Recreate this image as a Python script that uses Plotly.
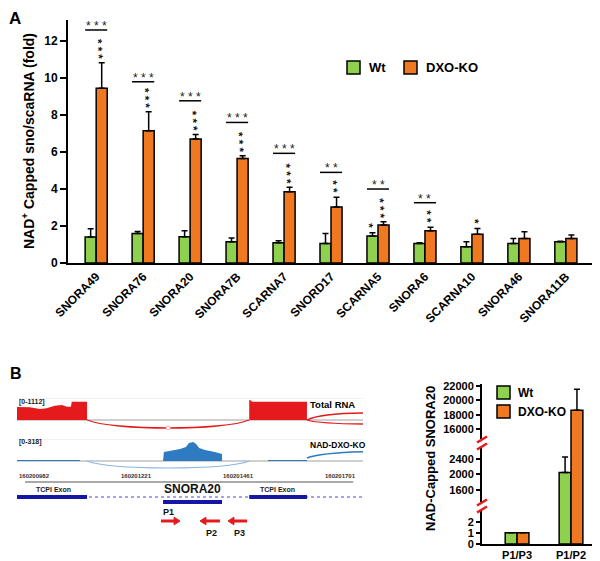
import plotly.graph_objects as go

W, H = 600, 561
OFF = 8  # page body margin in the viewer
FONT = "Liberation Sans, Arial, sans-serif"
GREEN = "#8FD14F"
ORANGE = "#F07820"
RED = "#E41A1C"
BLUE = "#2F7BC1"
LIGHTBLUE = "#8AB6E2"
GENE = "#1515A8"

# ---------------- Panel A data ----------------
categories = ["SNORA49", "SNORA76", "SNORA20", "SNORA7B", "SCARNA7", "SNORD17",
              "SCARNA5", "SNORA6", "SCARNA10", "SNORA46", "SNORA11B"]
wt_vals = [1.40, 1.60, 1.42, 1.15, 1.10, 1.05, 1.46, 1.06, 0.88, 1.06, 1.15]
wt_err = [0.45, 0.10, 0.33, 0.20, 0.10, 0.55, 0.18, 0.04, 0.27, 0.27, 0.03]
dxo_vals = [9.45, 7.15, 6.70, 5.65, 3.85, 3.03, 2.05, 1.75, 1.55, 1.33, 1.33]
dxo_err = [1.38, 1.03, 0.25, 0.15, 0.25, 0.52, 0.18, 0.18, 0.32, 0.36, 0.18]
bracket_y = [12.6, 9.8, 8.77, 7.6, 5.93, 4.9, 4.0, 3.26, None, None, None]
bracket_stars = ["***", "***", "***", "***", "***", "**", "**", "**", "", "", ""]
dxo_stars = ["***", "***", "***", "***", "***", "**", "***", "**", "*", "", ""]
wt_stars = ["", "", "", "", "", "", "*", "", "", "", ""]
yticks_a = [0, 2, 4, 6, 8, 10, 12]

# ---------------- Panel B (bar) data ----------------
primers = ["P1/P3", "P1/P2"]
wt_b = [1.0, 2050]
wt_b_err = [0, 400]
dxo_b = [1.0, 18600]
dxo_b_err = [0, 2950]
yticks_b_low = [0, 1, 2]
yticks_b_mid = [1600, 2000, 2400]
yticks_b_top = [16000, 18000, 20000, 22000]

# ---------------- Panel B (genome track) data ----------------
genome_range = [160200940, 160201755]
total_rna_pos = [160200940, 160200970, 160200994, 160201010, 160201029, 160201046,
                 160201058, 160201067, 160201069, 160201105, 160201105,
                 160201487, 160201487, 160201489, 160201494, 160201623, 160201623]
total_rna_cov = [657, 642, 556, 591, 723, 758, 672, 672, 925, 925, 0,
                 0, 1011, 1011, 925, 925, 0]
nad_pos = [160200940, 160201088, 160201088, 160201284, 160201286, 160201300,
           160201324, 160201338, 160201345, 160201355, 160201362, 160201369,
           160201383, 160201406, 160201421, 160201423, 160201423,
           160201531, 160201531, 160201623, 160201623]
nad_cov = [14, 14, 0, 0, 130, 145, 173, 202, 260, 275, 246, 188,
           159, 130, 101, 101, 0, 0, 14, 14, 0]
exons = [(160200940, 160201105), (160201487, 160201623)]
exon_label_pos = [160201027, 160201553]
snora20_span = (160201284, 160201423)
coord_labels = [160200982, 160201221, 160201461, 160201701]
primer_arrows = [("P1", 160201279, 160201324), ("P2", 160201418, 160201371),
                 ("P3", 160201482, 160201437)]
primer_label_pos = [160201296, 160201399, 160201463]


def px_x(p):
    return (p - OFF) / W


def px_y(p):
    return 1 - (p - OFF) / H


fig = go.Figure()
n = len(categories)
bw = 0.235

fig.add_trace(go.Bar(
    name="Wt", x=categories, y=wt_vals, width=bw, offset=-bw,
    marker=dict(color=GREEN, line=dict(color="black", width=1.5)),
    error_y=dict(type="data", symmetric=False, array=wt_err, arrayminus=[0] * n,
                 color="black", thickness=1.5, width=3),
    xaxis="x", yaxis="y", showlegend=False, hoverinfo="skip"))
fig.add_trace(go.Bar(
    name="DXO-KO", x=categories, y=dxo_vals, width=bw, offset=0,
    marker=dict(color=ORANGE, line=dict(color="black", width=1.5)),
    error_y=dict(type="data", symmetric=False, array=dxo_err, arrayminus=[0] * n,
                 color="black", thickness=1.5, width=3),
    xaxis="x", yaxis="y", showlegend=False, hoverinfo="skip"))

bwb = 0.22
for ya in ["y2", "y3", "y4"]:
    fig.add_trace(go.Bar(
        name="Wt", x=primers, y=wt_b, width=bwb, offset=-bwb,
        marker=dict(color=GREEN, line=dict(color="black", width=1.5)),
        error_y=dict(type="data", symmetric=False, array=wt_b_err, arrayminus=[0, 0],
                     color="black", thickness=1.5, width=3),
        xaxis="x2", yaxis=ya, showlegend=False, hoverinfo="skip"))
    fig.add_trace(go.Bar(
        name="DXO-KO", x=primers, y=dxo_b, width=bwb, offset=0,
        marker=dict(color=ORANGE, line=dict(color="black", width=1.5)),
        error_y=dict(type="data", symmetric=False, array=dxo_b_err, arrayminus=[0, 0],
                     color="black", thickness=1.5, width=3),
        xaxis="x2", yaxis=ya, showlegend=False, hoverinfo="skip"))

# genome coverage tracks
fig.add_trace(go.Scatter(x=total_rna_pos, y=total_rna_cov, mode="lines", fill="tozeroy",
                         fillcolor=RED, line=dict(width=0, color=RED),
                         xaxis="x5", yaxis="y5", showlegend=False, hoverinfo="skip"))
fig.add_trace(go.Scatter(x=nad_pos, y=nad_cov, mode="lines", fill="tozeroy",
                         fillcolor=BLUE, line=dict(width=0, color=BLUE),
                         xaxis="x5", yaxis="y6", showlegend=False, hoverinfo="skip"))

tickfont_a = dict(family=FONT, size=12, color="black", weight="bold")
tickfont_b = dict(family=FONT, size=11, color="black", weight="bold")


def yax(domain, rng, vals, font, ticklen, anchor):
    return dict(domain=domain, range=rng, anchor=anchor, tickvals=vals,
                ticktext=[str(v) for v in vals], showline=True, linewidth=2,
                linecolor="black", ticks="outside", ticklen=ticklen, tickwidth=2,
                tickcolor="black", tickfont=font, showgrid=False, zeroline=False,
                automargin=False)


fig.update_layout(
    template="none",
    width=W, height=H, margin=dict(l=0, r=0, t=0, b=0, pad=0, autoexpand=False),
    paper_bgcolor="white", plot_bgcolor="rgba(0,0,0,0)",
    font=dict(family=FONT, color="black"),
    barmode="overlay", showlegend=False,
    xaxis=dict(domain=[px_x(68), px_x(595)], type="category", range=[-0.6, 10.62],
               anchor="y", showline=True, linewidth=2, linecolor="black", ticks="",
               tickangle=-45, tickfont=tickfont_a, showgrid=False, zeroline=False,
               automargin=False),
    yaxis=yax([px_y(263), px_y(20)], [0, 13.14], yticks_a, tickfont_a, 6, "x"),
    xaxis2=dict(domain=[px_x(482), px_x(598)], type="category", range=[-0.65, 1.5],
                anchor="y2", showline=True, linewidth=2, linecolor="black", ticks="",
                tickfont=tickfont_b, showgrid=False, zeroline=False, automargin=False),
    yaxis2=yax([px_y(544), px_y(507)], [0, 3.32], yticks_b_low, tickfont_b, 4, "x2"),
    yaxis3=yax([px_y(507), px_y(445)], [1161, 2761], yticks_b_mid, tickfont_b, 4, "x2"),
    yaxis4=yax([px_y(445), px_y(384)], [13768, 22279], yticks_b_top, tickfont_b, 4, "x2"),
    xaxis5=dict(domain=[px_x(17), px_x(363)], range=genome_range, anchor="y5",
                visible=False, automargin=False),
    yaxis5=dict(domain=[px_y(430), px_y(398)], range=[-505.5, 1112], anchor="x5",
                visible=False, automargin=False),
    yaxis6=dict(domain=[px_y(470), px_y(439)], range=[-130, 318], anchor="x5",
                visible=False, automargin=False),
)

shapes = []
ann = []


def text(x, y, s, size, xref="paper", yref="paper", xanchor="center", yanchor="middle",
         angle=0, color="black", bold=True, **kw):
    ann.append(dict(xref=xref, yref=yref, x=x, y=y, text=s, showarrow=False,
                    xanchor=xanchor, yanchor=yanchor, textangle=angle,
                    font=dict(family=FONT, size=size, color=color,
                              weight="bold" if bold else "normal"), **kw))


def star_stack(x, ytop, stars):
    k = len(stars)
    text(x, ytop, " ".join(stars), 11.5, xref="x", yref="y", bold=True, color="#111",
         angle=87, yshift=3.5 + 3.5 * k, xshift=-3)


# ---- Panel A significance ----
for i in range(n):
    if bracket_y[i] is not None:
        shapes.append(dict(type="line", xref="x", yref="y", x0=i - bw, x1=i + bw,
                           y0=bracket_y[i], y1=bracket_y[i],
                           line=dict(color="black", width=1.5)))
        text(i, bracket_y[i], " ".join(bracket_stars[i]), 12, xref="x", yref="y",
             bold=False, color="#1a1a1a", yshift=4)
    if dxo_stars[i]:
        star_stack(i + bw / 2, dxo_vals[i] + dxo_err[i], dxo_stars[i])
    if wt_stars[i]:
        star_stack(i - bw / 2, wt_vals[i] + wt_err[i], wt_stars[i])


# ---- Legends (custom) ----
def legend_box(x0, y0, size, color):
    shapes.append(dict(type="rect", xref="paper", yref="paper",
                       x0=px_x(x0), x1=px_x(x0 + size), y0=px_y(y0 + size), y1=px_y(y0),
                       fillcolor=color, line=dict(color="black", width=1.5)))


legend_box(347, 61, 13, GREEN)
legend_box(404, 61, 13, ORANGE)
text(px_x(367), px_y(68), "Wt", 13, xanchor="left")
text(px_x(424), px_y(68), "DXO-KO", 13, xanchor="left")

legend_box(497, 386, 13, GREEN)
legend_box(497, 405, 13, ORANGE)
text(px_x(516), px_y(393), "Wt", 12, xanchor="left")
text(px_x(516), px_y(412), "DXO-KO", 12, xanchor="left")

# ---- Axis titles & panel letters ----
text(px_x(28), px_y(141), "NAD<sup>+</sup> Capped sno/scaRNA (fold)", 14, angle=-90)
text(px_x(430), px_y(459), "NAD-Capped SNORA20", 13, angle=-90)
text(0, 1, "A", 17, xanchor="left", yanchor="top", borderpad=0)
text(0, px_y(373), "B", 16, xanchor="left")

# ---- Axis break marks ----
for yb in [506, 443]:
    shapes.append(dict(type="line", xref="paper", yref="paper", x0=px_x(482), x1=px_x(482),
                       y0=px_y(yb - 4), y1=px_y(yb + 4), line=dict(color="white", width=4)))
    for dy in [-3.5, 3.5]:
        shapes.append(dict(type="line", xref="paper", yref="paper",
                           x0=px_x(477), x1=px_x(487),
                           y0=px_y(yb + dy + 3), y1=px_y(yb + dy - 3),
                           line=dict(color=RED, width=2.5)))

# ---- Genome track decorations ----
g0, g1 = genome_range
for yr, top in [("y5", 1112), ("y6", 318)]:
    shapes.append(dict(type="line", xref="x5", yref=yr, x0=g0, x1=g1, y0=top, y1=top,
                       line=dict(color="#e2e2e2", width=1), layer="below"))
    shapes.append(dict(type="line", xref="x5", yref=yr, x0=g0, x1=g1, y0=0, y1=0,
                       line=dict(color="#a0a0a0", width=1), layer="below"))

e1 = exons[0][1]
e2 = exons[1][0]
e2end = exons[1][1]
d = 59
shapes.append(dict(type="path", xref="x5", yref="y5",
                   path=f"M{e1},0 C{e1 + d},-539 {e2 - d},-539 {e2},0",
                   line=dict(color=RED, width=1.3)))
mid = (e1 + e2) / 2
shapes.append(dict(type="circle", xref="x5", yref="y5", x0=mid - 5, x1=mid + 5,
                   y0=-404 - 100, y1=-404 + 100, fillcolor="white",
                   line=dict(color="#f0a0a0", width=1)))
shapes.append(dict(type="path", xref="x5", yref="y5",
                   path=f"M{e2end},0 Q{e2end + 30},330 {g1},354",
                   line=dict(color=RED, width=1.3)))
shapes.append(dict(type="path", xref="x5", yref="y5",
                   path=f"M{e2end},0 Q{e2end + 30},-190 {g1},-202",
                   line=dict(color=RED, width=1.3)))
shapes.append(dict(type="path", xref="x5", yref="y6",
                   path=f"M{e1},0 C{e1 + d},-135 {e2 - d},-135 {e2},0",
                   line=dict(color=LIGHTBLUE, width=1.2)))
shapes.append(dict(type="path", xref="x5", yref="y6",
                   path=f"M{e2end},43 Q{e2end + 30},115 {g1},132",
                   line=dict(color=BLUE, width=1.5)))

# ruler + coordinates
shapes.append(dict(type="line", xref="x5", yref="paper", x0=160200959, x1=160201732,
                   y0=px_y(482), y1=px_y(482), line=dict(color="#8c8c8c", width=1.5)))
for c in coord_labels:
    text(c, px_y(476), str(c), 6, xref="x5", color="#333")
text(g0, px_y(402), "[0-1112]", 7, xref="x5", xanchor="left", color="#222")
text(g0, px_y(442), "[0-318]", 7, xref="x5", xanchor="left", color="#222")
text(px_x(308), px_y(404), "Total RNA", 9.5, xanchor="left")
text(px_x(308), px_y(445), "NAD-DXO-KO", 8.5, xanchor="left")

# gene model
shapes.append(dict(type="line", xref="x5", yref="paper", x0=g0, x1=g1,
                   y0=px_y(497), y1=px_y(497), line=dict(color="#4a4ad0", width=1, dash="dot")))
for (a, b) in exons:
    shapes.append(dict(type="line", xref="x5", yref="paper", x0=a, x1=b,
                       y0=px_y(497), y1=px_y(497), line=dict(color=GENE, width=4)))
shapes.append(dict(type="line", xref="x5", yref="paper", x0=snora20_span[0], x1=snora20_span[1],
                   y0=px_y(502), y1=px_y(502), line=dict(color=GENE, width=4)))
for lp in exon_label_pos:
    text(lp, px_y(489), "TCPI Exon", 7, xref="x5", color="#222")
text(sum(snora20_span) / 2, px_y(489), "SNORA20", 12, xref="x5", color="#111")

# primers (arrows as shapes)
head_len = 14   # genomic units (~6 px)
for (lab, tail, head), lp in zip(primer_arrows, primer_label_pos):
    direction = 1 if head > tail else -1
    base = head - direction * head_len
    yc = px_y(521)
    hh = 3.8 / H
    shapes.append(dict(type="line", xref="x5", yref="paper", x0=tail, x1=base,
                       y0=yc, y1=yc, line=dict(color=RED, width=3)))
    shapes.append(dict(type="path", xref="x5", yref="paper",
                       path=f"M{head},{yc} L{base},{yc + hh} L{base},{yc - hh} Z",
                       fillcolor=RED, line=dict(color=RED, width=1)))
    ypos = 512 if lab == "P1" else 533
    text(lp, px_y(ypos), lab, 9, xref="x5", color="#111")

fig.update_layout(shapes=shapes, annotations=ann)
fig.write_html("out.html")
